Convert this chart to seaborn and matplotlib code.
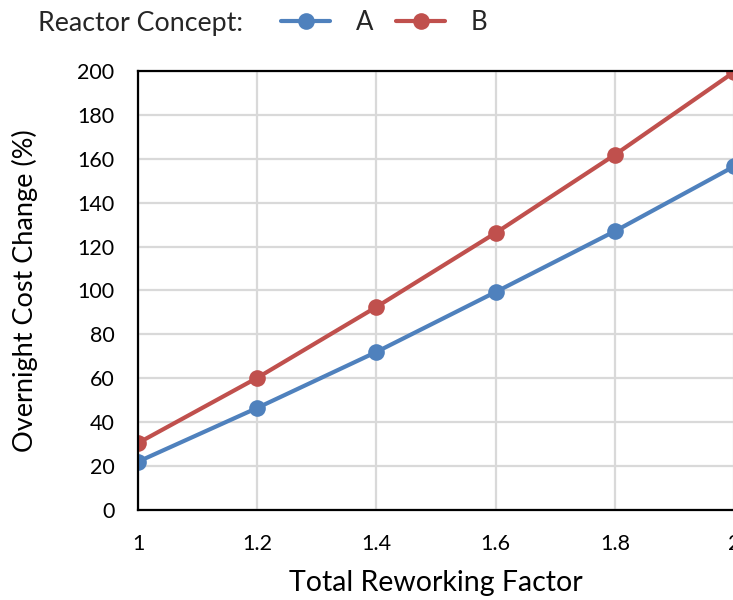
import matplotlib
matplotlib.use("Agg")
import matplotlib.pyplot as plt
import seaborn as sns
import pandas as pd

reworking_factor = [1.0, 1.2, 1.4, 1.6, 1.8, 2.0]
cost_change_a = [22, 46.5, 72, 99.3, 127, 156.5]
cost_change_b = [30.5, 60.2, 92.5, 126.2, 161.8, 199.5]
concepts = ["A", "B"]
x_ticks = [1, 1.2, 1.4, 1.6, 1.8, 2]
y_ticks = [0, 20, 40, 60, 80, 100, 120, 140, 160, 180, 200]

df = pd.DataFrame({
    "factor": reworking_factor * 2,
    "cost": cost_change_a + cost_change_b,
    "concept": ["A"] * len(cost_change_a) + ["B"] * len(cost_change_b),
})

sns.set_theme(style="white")
plt.rcParams["font.family"] = ["Lato", "DejaVu Sans"]

fig = plt.figure(figsize=(7.33, 6.0), dpi=100)
ax = fig.add_axes([138 / 733, 0.15, 596 / 733, 0.8817 - 0.15])

palette = {"A": "#4F81BD", "B": "#C0504D"}
sns.lineplot(data=df, x="factor", y="cost", hue="concept", hue_order=concepts,
             palette=palette, marker="o", markersize=12, linewidth=3,
             markeredgewidth=0, ax=ax, legend=False, zorder=3)

ax.set_xlim(1, 2)
ax.set_ylim(0, 200)
ax.set_xticks(x_ticks)
ax.set_xticklabels(["1", "1.2", "1.4", "1.6", "1.8", "2"])
ax.set_yticks(y_ticks)
ax.grid(True, color="#D9D9D9", linewidth=1.6)
ax.tick_params(axis="both", length=0, labelsize=15.5, colors="black")
ax.tick_params(axis="y", pad=17)
ax.tick_params(axis="x", pad=17)
for side in ["left", "bottom", "top"]:
    ax.spines[side].set_color("black")
    ax.spines[side].set_linewidth(1.6)
ax.spines["right"].set_color("#A6A6A6")
ax.spines["right"].set_linewidth(1.2)
for s in ax.spines.values():
    s.set_zorder(4)

ax.set_xlabel("Total Reworking Factor", fontsize=20.5, labelpad=12, color="black")
ax.set_ylabel("Overnight Cost Change (%)", fontsize=19.5, labelpad=28, color="black")

handles = [plt.Line2D([], [], color=palette[c], marker="o", markersize=12,
                      linewidth=3, markeredgewidth=0) for c in concepts]
fig.text(38 / 733, 1 - 24 / 600, "Reactor Concept:", fontsize=19.3, va="center", ha="left")
fig.legend(handles, concepts, ncol=2, frameon=False, fontsize=18.5,
           loc="center left", bbox_to_anchor=(258 / 733, 1 - 22 / 600),
           handlelength=1.9, handletextpad=1.0, columnspacing=0.9)

fig.savefig("out.png", dpi=100)
